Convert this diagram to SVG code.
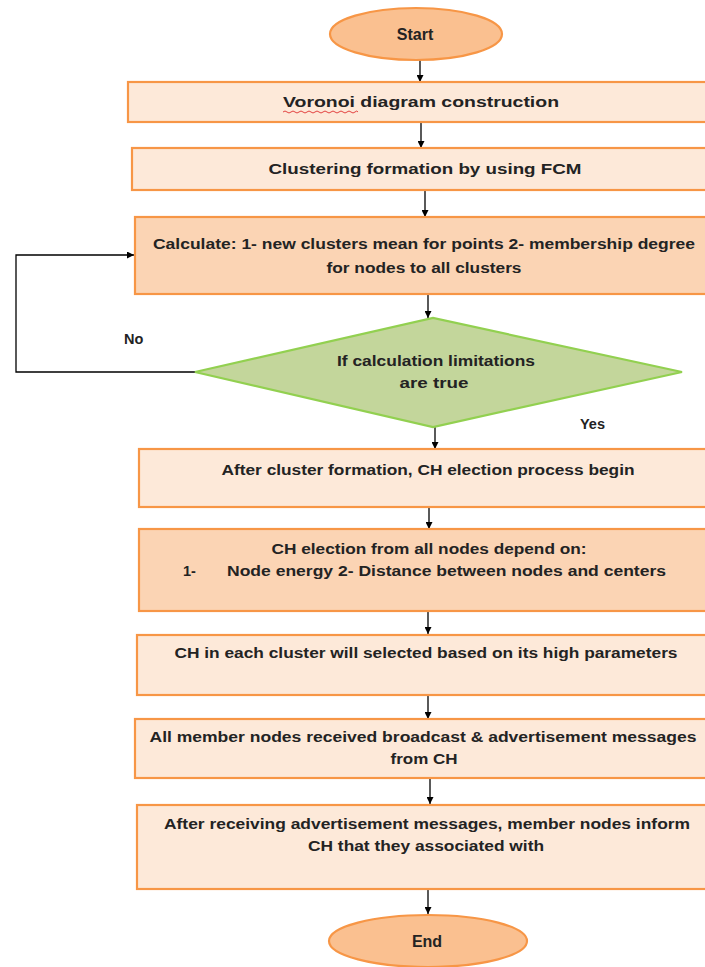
<svg xmlns="http://www.w3.org/2000/svg" width="705" height="967" viewBox="0 0 705 967">
  <style>
    .box { fill: #fde9d9; stroke: #f79646; stroke-width: 2.2; }
    .box.dark { fill: #fbd4b4; }
    .term { fill: #fac090; stroke: #f79646; stroke-width: 2.2; }
    .dec { fill: #c3d69b; stroke: #92d050; stroke-width: 2.2; }
    .t { font-family: "Liberation Sans", Arial, sans-serif; font-size: 14.5px; font-weight: bold; fill: #232323; text-anchor: middle; }
    .tl { font-family: "Liberation Sans", Arial, sans-serif; font-size: 14.5px; font-weight: bold; fill: #232323; }
    .term-t { font-size: 16px; }
    .edge { fill: none; stroke: #000; stroke-width: 1.3; marker-end: url(#arrow); }
    .squiggle { fill: none; stroke: #e03030; stroke-width: 0.9; }
  </style>
  <defs>
    <marker id="arrow" viewBox="0 0 10 10" refX="10" refY="5" markerWidth="7" markerHeight="7" markerUnits="userSpaceOnUse" orient="auto">
      <path d="M0,0 L10,5 L0,10 z" fill="#000"/>
    </marker>
  </defs>

  <rect width="705" height="967" fill="#fff"/>

  <!-- connectors -->
  <g id="connectors">
    <line class="edge" x1="420" y1="60" x2="420" y2="82"/>
    <line class="edge" x1="421" y1="123" x2="421" y2="148"/>
    <line class="edge" x1="425" y1="191" x2="425" y2="217"/>
    <line class="edge" x1="428" y1="295" x2="428" y2="318"/>
    <line class="edge" x1="435" y1="427" x2="435" y2="449"/>
    <line class="edge" x1="429" y1="508" x2="429" y2="529"/>
    <line class="edge" x1="428" y1="612" x2="428" y2="634"/>
    <line class="edge" x1="428" y1="696" x2="428" y2="719"/>
    <line class="edge" x1="430" y1="779" x2="430" y2="804"/>
    <line class="edge" x1="428" y1="889" x2="428" y2="914"/>
    <!-- "No" feedback loop back to the calculation step -->
    <polyline class="edge" points="195,372 16,372 16,255 134,255"/>
    <text class="tl" x="124" y="344">No</text>
    <text class="tl" x="580" y="429">Yes</text>
  </g>

  <g id="start">
    <ellipse class="term" cx="416" cy="34" rx="86" ry="26"/>
    <text class="t term-t" x="415" y="40">Start</text>
  </g>

  <g id="voronoi">
    <rect class="box" x="128" y="82" width="600" height="40"/>
    <text class="t" x="421" y="107" textLength="276" lengthAdjust="spacingAndGlyphs">Voronoi diagram construction</text>
    <path class="squiggle" d="M283,112 q2,-2 4,0 t4,0 t4,0 t4,0 t4,0 t4,0 t4,0 t4,0 t4,0 t4,0 t4,0 t4,0 t4,0 t4,0 t4,0 t4,0 t4,0 t4,0 t3,0"/>
  </g>

  <g id="fcm">
    <rect class="box" x="132" y="148" width="600" height="42"/>
    <text class="t" x="425" y="174" textLength="313" lengthAdjust="spacingAndGlyphs">Clustering formation by using FCM</text>
  </g>

  <g id="calculate">
    <rect class="box dark" x="135" y="217" width="600" height="77"/>
    <text class="t" x="424" y="249" textLength="542" lengthAdjust="spacingAndGlyphs">Calculate: 1- new clusters mean for points 2- membership degree</text>
    <text class="t" x="424" y="273" textLength="195" lengthAdjust="spacingAndGlyphs">for nodes  to all clusters</text>
  </g>

  <g id="decision">
    <polygon class="dec" points="195,372 433,318 682,372 433,427"/>
    <text class="t" x="436" y="366" textLength="198" lengthAdjust="spacingAndGlyphs">If calculation  limitations</text>
    <text class="t" x="434" y="388" textLength="69" lengthAdjust="spacingAndGlyphs">are true</text>
  </g>

  <g id="ch-begin">
    <rect class="box" x="139" y="449" width="600" height="58"/>
    <text class="t" x="428" y="475" textLength="413" lengthAdjust="spacingAndGlyphs">After cluster formation, CH election  process begin</text>
  </g>

  <g id="ch-election">
    <rect class="box dark" x="139" y="529" width="600" height="82"/>
    <text class="t" x="429" y="554" textLength="315" lengthAdjust="spacingAndGlyphs">CH election from all nodes depend on:</text>
    <text class="tl" x="183" y="576">1-</text>
    <text class="tl" x="227" y="576" textLength="439" lengthAdjust="spacingAndGlyphs">Node energy 2- Distance between nodes and centers</text>
  </g>

  <g id="ch-select">
    <rect class="box" x="137" y="635" width="600" height="60"/>
    <text class="t" x="426" y="658" textLength="503" lengthAdjust="spacingAndGlyphs">CH in each cluster will selected based on its high parameters</text>
  </g>

  <g id="broadcast">
    <rect class="box" x="135" y="719" width="600" height="59"/>
    <text class="t" x="423" y="742" textLength="547" lengthAdjust="spacingAndGlyphs">All member nodes received broadcast &amp; advertisement messages</text>
    <text class="t" x="424" y="764" textLength="67" lengthAdjust="spacingAndGlyphs">from CH</text>
  </g>

  <g id="associate">
    <rect class="box" x="137" y="805" width="600" height="84"/>
    <text class="t" x="427" y="829" textLength="526" lengthAdjust="spacingAndGlyphs">After receiving advertisement messages, member nodes  inform</text>
    <text class="t" x="426" y="851" textLength="236" lengthAdjust="spacingAndGlyphs">CH that they associated with</text>
  </g>

  <g id="end">
    <ellipse class="term" cx="428" cy="941" rx="99" ry="26"/>
    <text class="t term-t" x="427" y="947">End</text>
  </g>
</svg>
